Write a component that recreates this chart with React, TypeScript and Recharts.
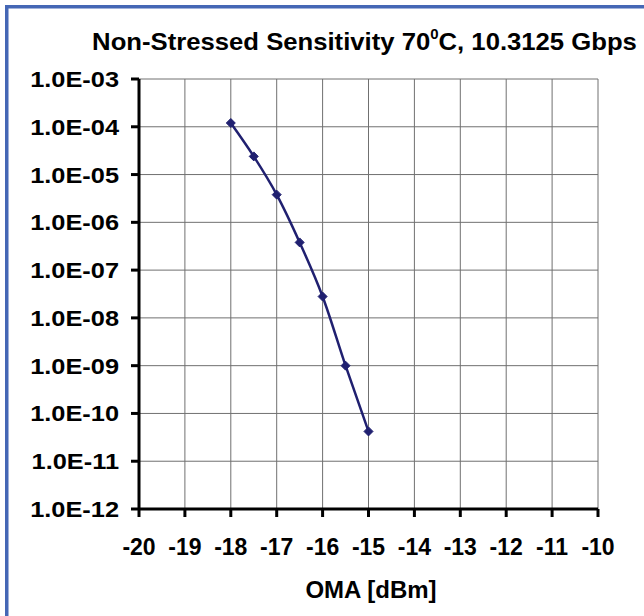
import React from 'react';
import { LineChart, Line, XAxis, YAxis, CartesianGrid } from 'recharts';

const omaDbm = [-18, -17.5, -17, -16.5, -16, -15.5, -15];
const berValues = [1.2e-4, 2.4e-5, 3.8e-6, 3.8e-7, 2.8e-8, 1.0e-9, 4.2e-11];
const xTicks = [-20, -19, -18, -17, -16, -15, -14, -13, -12, -11, -10];
const yTicks = [1e-12, 1e-11, 1e-10, 1e-9, 1e-8, 1e-7, 1e-6, 1e-5, 1e-4, 1e-3];
const yTickLabels = ['1.0E-12', '1.0E-11', '1.0E-10', '1.0E-09', '1.0E-08', '1.0E-07', '1.0E-06', '1.0E-05', '1.0E-04', '1.0E-03'];
const titleMain = 'Non-Stressed Sensitivity 70';
const titleSup = '0';
const titleRest = 'C, 10.3125 Gbps';
const xAxisTitle = 'OMA [dBm]';

const data = omaDbm.map((x, i) => ({ x, ber: berValues[i] }));

const FONT = '"Liberation Sans", Arial, sans-serif';
const LINE_COLOR = '#202070';

const YTick = (props: any) => {
  const { x, y, payload } = props;
  const idx = yTicks.findIndex((t) => Math.abs(Math.log10(t) - Math.log10(payload.value)) < 1e-6);
  const label = idx >= 0 ? yTickLabels[idx] : String(payload.value);
  return (
    <g transform={`translate(${x},${y + 8}) scale(1.18,1)`}>
      <text x={0} y={0} textAnchor="end" fontFamily={FONT} fontWeight="bold" fontSize={21.5} fill="#000">
        {label}
      </text>
    </g>
  );
};

const XTick = (props: any) => {
  const { x, y, payload } = props;
  return (
    <text x={x} y={y + 36} textAnchor="middle" fontFamily={FONT} fontWeight="bold" fontSize={23} fill="#000">
      {payload.value}
    </text>
  );
};

const Diamond = (props: any) => {
  const { cx, cy } = props;
  if (cx == null || cy == null) return null;
  const r = 4.5;
  return (
    <polygon
      points={`${cx},${cy - r} ${cx + r},${cy} ${cx},${cy + r} ${cx - r},${cy}`}
      fill={LINE_COLOR}
      stroke={LINE_COLOR}
      strokeWidth={1}
    />
  );
};

export default function App() {
  return (
    <div style={{ position: 'absolute', left: 0, top: 0, width: 644, height: 616, background: '#fff', overflow: 'hidden' }}>
      <LineChart
        width={644}
        height={616}
        data={data}
        margin={{ top: 79, right: 46, bottom: 0, left: 0 }}
      >
        <CartesianGrid stroke="#707070" strokeWidth={1} />
        <XAxis
          dataKey="x"
          type="number"
          domain={[-20, -10]}
          ticks={xTicks}
          interval={0}
          height={107}
          tick={<XTick />}
          tickSize={8}
          tickMargin={2}
          axisLine={{ stroke: '#000', strokeWidth: 3 }}
          tickLine={{ stroke: '#000', strokeWidth: 3 }}
          allowDataOverflow
        />
        <YAxis
          type="number"
          scale="log"
          domain={[1e-12, 1e-3]}
          ticks={yTicks}
          interval={0}
          width={139}
          tick={<YTick />}
          tickSize={8}
          tickMargin={12}
          axisLine={{ stroke: '#000', strokeWidth: 3 }}
          tickLine={{ stroke: '#000', strokeWidth: 3 }}
          allowDataOverflow
        />
        <Line
          type="monotone"
          dataKey="ber"
          stroke={LINE_COLOR}
          strokeWidth={2.5}
          dot={<Diamond />}
          isAnimationActive={false}
        />
      </LineChart>
      <svg
        width={644}
        height={616}
        style={{ position: 'absolute', left: 0, top: 0, pointerEvents: 'none' }}
      >
        <rect x={5} y={5} width={3.5} height={611} fill="#4567B5" />
        <rect x={5} y={5} width={639} height={3.5} fill="#4567B5" />
        <g transform="translate(364.5,50) scale(1.07,1)">
          <text x={0} y={0} textAnchor="middle" fontFamily={FONT} fontWeight="bold" fontSize={24} fill="#000">
            {titleMain}
            <tspan fontSize={14} dy={-11}>{titleSup}</tspan>
            <tspan dy={11}>{titleRest}</tspan>
          </text>
        </g>
        <text x={371} y={598} textAnchor="middle" fontFamily={FONT} fontWeight="bold" fontSize={24} fill="#000">
          {xAxisTitle}
        </text>
      </svg>
    </div>
  );
}
